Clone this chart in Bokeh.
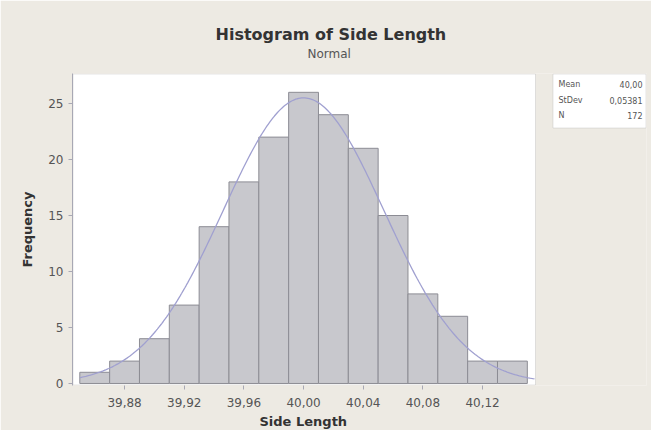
import numpy as np
from bokeh.plotting import figure
from bokeh.models import FixedTicker, Range1d, Title, BoxAnnotation, Label
from bokeh.embed import file_html
from bokeh.resources import INLINE

# ---- data ----
bin_centers = [39.86, 39.88, 39.90, 39.92, 39.94, 39.96, 39.98, 40.00,
               40.02, 40.04, 40.06, 40.08, 40.10, 40.12, 40.14]
counts = [1, 2, 4, 7, 14, 18, 22, 26, 24, 21, 15, 8, 6, 2, 2]
bin_width = 0.02
mean_val = 40.00
stdev_val = 0.05381
n_val = 172
x_ticks = [39.88, 39.92, 39.96, 40.00, 40.04, 40.08, 40.12]
x_tick_labels = ["39,88", "39,92", "39,96", "40,00", "40,04", "40,08", "40,12"]
y_ticks = [0, 5, 10, 15, 20, 25]
stat_names = ["Mean", "StDev", "N"]
stat_vals = ["40,00", "0,05381", "172"]

BG = "#EDEAE3"
FONT = "DejaVu Sans"
TXT = "#555555"
EDGE = "#A4A4A8"

# frame geometry (pixels) and scale
FL, FR, FT, FB = 72, 646, 73, 385          # frame edges on canvas
PLOT_RIGHT = 535                           # right edge of white plot area
X0 = 39.8451
SX = 1491.7                                # px per unit on x
Y0, Y1 = -0.18, 27.68
X1 = X0 + (FR - FL) / SX
SY = (FB - FT) / (Y1 - Y0)


def fx(px):
    return X0 + (px - FL) / SX


def fy(py):
    return Y1 - (py - FT) / SY


p = figure(width=651, height=430, output_backend="svg", toolbar_location=None,
           x_range=Range1d(X0, X1), y_range=Range1d(Y0, Y1),
           min_border_left=FL, min_border_right=651 - FR, min_border_top=FT,
           min_border_bottom=430 - FB)
p.background_fill_color = BG
p.border_fill_color = BG
p.outline_line_color = None
p.grid.visible = False

# white plot area
p.add_layout(BoxAnnotation(left=fx(FL + 0.5), right=fx(PLOT_RIGHT), bottom=fy(FB - 0.5),
                           top=fy(FT + 0.5),
                           fill_color="white", fill_alpha=1.0,
                           line_color=EDGE, line_width=1, level="underlay"))

# bars
lefts = [c - bin_width / 2 for c in bin_centers]
rights = [c + bin_width / 2 for c in bin_centers]
p.quad(left=lefts, right=rights, bottom=0, top=counts,
       fill_color="#C8C8CD", line_color="#8C8C94", line_width=1)

# fitted normal curve (from the stated mean / stdev)
xs = np.linspace(39.85, fx(PLOT_RIGHT - 1), 300)
ys = n_val * bin_width * np.exp(-0.5 * ((xs - mean_val) / stdev_val) ** 2) / (stdev_val * np.sqrt(2 * np.pi))
p.line(xs, ys, line_color="#A0A0D0", line_width=1.3)

# axes
for ax in (p.xaxis[0], p.yaxis[0]):
    ax.axis_line_color = "#A8A8B4"
    ax.major_tick_line_color = "#A8A8B4"
    ax.minor_tick_line_color = None
    ax.major_tick_in = 0
    ax.major_tick_out = 4
    ax.major_label_text_font = FONT
    ax.major_label_text_font_size = "12px"
    ax.major_label_text_color = TXT
    ax.axis_label_text_font = FONT
    ax.axis_label_text_font_style = "bold"
    ax.axis_label_text_font_size = "13px"
    ax.axis_label_text_color = "#333333"

p.xaxis.axis_line_color = None
p.xaxis.ticker = FixedTicker(ticks=x_ticks)
p.xaxis.major_label_overrides = {t: l for t, l in zip(x_ticks, x_tick_labels)}
p.xaxis.major_label_standoff = 8

p.yaxis.ticker = FixedTicker(ticks=y_ticks)
p.yaxis.axis_label = "Frequency"
p.yaxis.major_label_standoff = 5
p.yaxis.axis_label_standoff = 10

# x axis title (placed under the plot area, not the whole frame)
xlab = Title(text="Side Length", align="left", offset=187, standoff=4, text_font=FONT,
             text_font_size="13px", text_font_style="bold", text_color="#333333")
p.add_layout(xlab, "below")

# titles
p.title.text = ""
sub = Title(text="Normal", align="left", offset=235, standoff=25, text_font=FONT,
            text_font_size="12px", text_font_style="normal", text_color=TXT,
            text_line_height=0.7)
p.add_layout(sub, "above")
main = Title(text="Histogram of Side Length", align="left", offset=143, standoff=-22,
             text_font=FONT, text_font_size="16px", text_font_style="bold",
             text_color="#333333")
p.add_layout(main, "above")

# stats box
p.add_layout(BoxAnnotation(left=fx(552.5), right=fx(645.5), top=fy(73.5), bottom=fy(127.5),
                           fill_color="white", fill_alpha=1.0,
                           line_color=EDGE, line_width=1, level="underlay"))
for nm, vv, py in zip(stat_names, stat_vals, [84, 99.5, 115]):
    p.add_layout(Label(x=fx(558), y=fy(py), text=nm, text_font=FONT,
                       text_font_size="8px", text_color=TXT,
                       text_baseline="middle", text_align="left"))
    p.add_layout(Label(x=fx(642), y=fy(py), text=vv, text_font=FONT,
                       text_font_size="8px", text_color=TXT,
                       text_baseline="middle", text_align="right"))

open("out.html", "w").write(file_html(p, INLINE))
